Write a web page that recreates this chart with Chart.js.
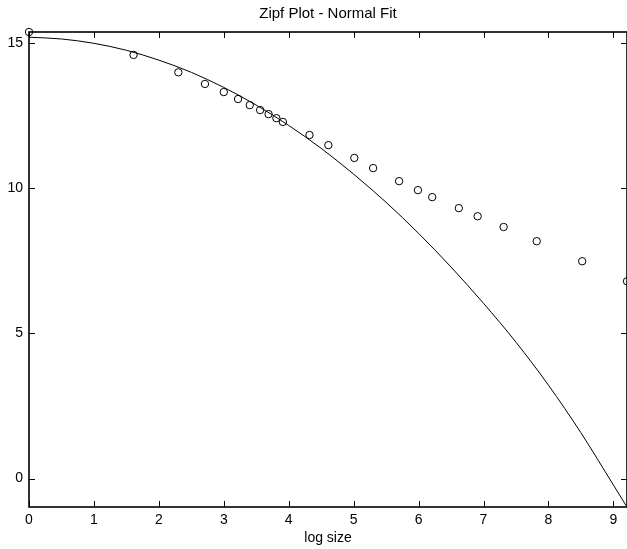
<!DOCTYPE html>
<html lang="en">
<head>
    <meta charset="UTF-8">
    <title>Zipf Plot - Normal Fit</title>
    <style>
        html, body { margin: 0; padding: 0; background: #fff; }
        canvas { display: block; }
    </style>
</head>
<body>
    <canvas id="zipfChart" width="627" height="549"></canvas>

    <script src="https://cdn.jsdelivr.net/npm/chart.js"></script>
    <script>
        // observed points: log size vs log rank
        const logSize = [0, 1.61, 2.30, 2.71, 3.00, 3.22, 3.40, 3.56, 3.69, 3.81, 3.91, 4.32,
            4.61, 5.01, 5.30, 5.70, 5.99, 6.21, 6.62, 6.91, 7.31, 7.82, 8.52, 9.21];
        const logRank = [15.39, 14.60, 14.00, 13.60, 13.32, 13.08, 12.87, 12.70, 12.56, 12.42, 12.29, 11.84,
            11.49, 11.05, 10.70, 10.25, 9.94, 9.70, 9.32, 9.04, 8.67, 8.18, 7.49, 6.80];

        // normal fit curve
        const fitX = [0, 0.5, 1, 1.5, 2, 2.5, 3, 3.5, 4, 4.5, 5, 5.5, 6, 6.5, 7, 7.5, 8, 8.5, 9, 9.21];
        const fitY = [15.21, 15.15, 15.00, 14.76, 14.42, 14.00, 13.48, 12.87, 12.17, 11.38, 10.49, 9.52,
            8.45, 7.29, 6.04, 4.70, 3.22, 1.58, -0.22, -0.98];

        const xTicks = [0, 1, 2, 3, 4, 5, 6, 7, 8, 9];
        const yTicks = [0, 5, 10, 15];

        const fontFamily = 'Arial, "Liberation Sans", Helvetica, sans-serif';

        document.addEventListener('DOMContentLoaded', function () {
            const ctx = document.getElementById('zipfChart').getContext('2d');

            // box around the axes with inward ticks on all four sides
            const axesBox = {
                id: 'axesBox',
                beforeDatasetsDraw(chart) {
                    const { ctx, chartArea: a, scales: { x, y } } = chart;
                    const len = 6;
                    ctx.save();
                    ctx.strokeStyle = '#000';
                    ctx.lineWidth = 1;
                    ctx.beginPath();
                    x.ticks.forEach(t => {
                        const px = Math.round(x.getPixelForValue(t.value)) + 0.5;
                        ctx.moveTo(px, a.bottom);
                        ctx.lineTo(px, a.bottom - len);
                        ctx.moveTo(px, a.top);
                        ctx.lineTo(px, a.top + len);
                    });
                    y.ticks.forEach(t => {
                        const py = Math.round(y.getPixelForValue(t.value)) + 0.5;
                        ctx.moveTo(a.left, py);
                        ctx.lineTo(a.left + len, py);
                        ctx.moveTo(a.right, py);
                        ctx.lineTo(a.right - len, py);
                    });
                    ctx.stroke();
                    ctx.lineWidth = 1.6;
                    ctx.strokeRect(a.left, a.top, a.right - a.left, a.bottom - a.top);
                    ctx.restore();
                }
            };

            const data = {
                datasets: [{
                    label: 'Normal fit',
                    data: fitX.map((v, i) => ({ x: v, y: fitY[i] })),
                    showLine: true,
                    borderColor: '#000',
                    borderWidth: 1,
                    pointRadius: 0,
                    cubicInterpolationMode: 'monotone'
                }, {
                    label: 'Data',
                    data: logSize.map((v, i) => ({ x: v, y: logRank[i] })),
                    showLine: false,
                    pointStyle: 'circle',
                    pointRadius: 3.7,
                    pointBorderWidth: 1,
                    pointBorderColor: '#000',
                    pointBackgroundColor: 'rgba(0,0,0,0)',
                    clip: false
                }]
            };

            const config = {
                type: 'scatter',
                data,
                options: {
                    responsive: false,
                    animation: false,
                    layout: { padding: 0, autoPadding: false },
                    plugins: {
                        legend: { display: false },
                        tooltip: { enabled: false },
                        title: {
                            display: true,
                            fullSize: false,
                            text: 'Zipf Plot - Normal Fit',
                            color: '#000',
                            font: { family: fontFamily, size: 15, weight: 'normal' },
                            padding: { top: 5, bottom: 9 }
                        }
                    },
                    scales: {
                        x: {
                            type: 'linear',
                            min: 0,
                            max: 9.21,
                            grid: { display: false, drawTicks: false },
                            border: { display: false },
                            afterBuildTicks: axis => { axis.ticks = xTicks.map(v => ({ value: v })); },
                            afterFit: axis => { axis.height = 42; },
                            ticks: {
                                color: '#000',
                                font: { family: fontFamily, size: 14 },
                                padding: 5,
                                maxRotation: 0
                            },
                            title: {
                                display: true,
                                text: 'log size',
                                color: '#000',
                                font: { family: fontFamily, size: 14 },
                                padding: { top: 0, bottom: 2 }
                            }
                        },
                        y: {
                            type: 'linear',
                            min: -0.98,
                            max: 15.39,
                            grid: { display: false, drawTicks: false },
                            border: { display: false },
                            afterBuildTicks: axis => { axis.ticks = yTicks.map(v => ({ value: v })); },
                            afterFit: axis => { axis.width = 29; },
                            ticks: {
                                color: '#000',
                                font: { family: fontFamily, size: 14 },
                                padding: 6
                            }
                        }
                    }
                },
                plugins: [axesBox]
            };

            new Chart(ctx, config);
        });
    </script>
</body>
</html>
